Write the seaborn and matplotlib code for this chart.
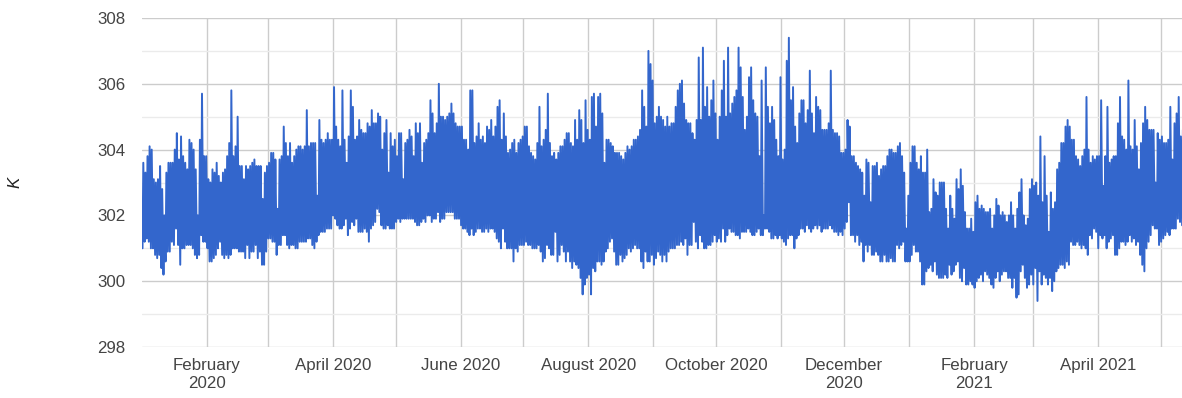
import matplotlib
matplotlib.use("Agg")
import matplotlib.pyplot as plt
import matplotlib.dates as mdates
from matplotlib.ticker import MultipleLocator
import numpy as np
import pandas as pd
import seaborn as sns

# Daily extremes of the hourly temperature record (kelvin), one list per month.
high_2020_01 = [303.6, 303.3, 303.8, 304.1, 304.0, 303.1, 303.0, 303.1, 303.5, 302.8, 302.0, 303.3, 303.6, 303.6, 303.6, 304.0,
                304.5, 303.7, 304.4, 303.8, 303.6, 303.4, 304.3, 304.2, 304.0, 303.4, 302.0, 304.3, 305.7, 303.8, 303.8]
low_2020_01 = [301.0, 301.2, 301.3, 301.2, 301.0, 301.0, 300.8, 300.7, 300.8, 300.4, 300.2, 300.6, 300.9, 300.9, 301.2, 301.1,
               301.6, 301.1, 300.5, 301.0, 301.0, 301.1, 301.1, 301.1, 301.0, 300.8, 300.7, 300.8, 301.4, 301.2, 301.2]

high_2020_02 = [303.1, 303.0, 303.4, 303.3, 303.6, 303.2, 303.0, 303.3, 303.4, 303.8, 304.2, 305.8, 303.8, 304.1, 305.0,
                303.5, 303.5, 303.1, 303.5, 303.4, 303.5, 303.6, 303.7, 303.5, 303.5, 303.5, 302.5, 303.3, 303.5]
low_2020_02 = [301.0, 300.6, 300.6, 300.7, 300.8, 301.0, 301.2, 300.8, 300.7, 300.8, 300.7, 300.8, 301.0, 301.0, 301.0,
               300.9, 300.9, 300.9, 300.7, 301.1, 300.7, 300.9, 300.9, 301.1, 300.7, 300.9, 300.5, 300.5, 300.9]

high_2020_03 = [303.6, 303.9, 303.9, 303.7, 302.2, 303.7, 303.8, 304.7, 304.2, 303.8, 304.2, 303.6, 303.8, 304.0, 304.1, 304.1,
                304.0, 304.1, 305.2, 304.1, 304.2, 304.2, 304.2, 302.6, 304.9, 304.3, 304.2, 304.3, 304.5, 304.3, 304.3]
low_2020_03 = [301.3, 301.3, 301.2, 301.2, 300.8, 301.1, 301.1, 301.4, 301.4, 301.1, 301.0, 301.1, 301.1, 301.0, 301.0, 301.2,
               301.2, 301.2, 301.2, 301.3, 301.3, 301.1, 301.0, 301.2, 301.4, 301.5, 301.5, 301.5, 301.6, 301.6, 301.6]

high_2020_04 = [305.9, 304.7, 304.3, 304.1, 305.8, 304.3, 303.6, 304.4, 305.8, 305.3, 304.3, 304.4, 304.9, 304.6, 304.5,
                304.5, 304.8, 304.7, 305.2, 304.8, 304.8, 305.1, 305.0, 304.0, 304.5, 304.9, 303.3, 304.5, 304.1, 304.3]
low_2020_04 = [302.0, 301.9, 301.7, 301.6, 301.6, 301.7, 301.9, 301.4, 301.6, 301.8, 301.7, 301.9, 301.5, 301.5, 301.5,
               301.6, 301.5, 301.2, 301.6, 301.7, 301.8, 302.2, 302.1, 301.7, 301.6, 301.6, 301.7, 301.6, 301.6, 301.6]

high_2020_05 = [303.8, 304.5, 304.5, 303.1, 304.2, 304.3, 304.6, 304.4, 303.8, 304.8, 304.5, 304.8, 303.6, 304.2, 304.3, 304.5,
                305.5, 305.1, 304.5, 304.8, 306.0, 305.0, 305.0, 304.9, 305.0, 305.1, 305.4, 305.1, 304.8, 304.7, 304.7]
low_2020_05 = [301.8, 301.9, 301.8, 301.9, 301.9, 301.9, 301.9, 301.9, 301.9, 301.8, 301.7, 301.7, 301.8, 301.9, 301.8, 302.0,
               302.0, 301.8, 301.9, 301.9, 302.1, 301.8, 301.9, 301.9, 302.1, 302.1, 302.1, 302.1, 301.9, 301.9, 301.9]

high_2020_06 = [304.7, 304.3, 304.3, 304.0, 305.8, 305.8, 304.2, 304.4, 304.8, 304.3, 304.4, 304.2, 304.7, 304.6, 304.9,
                304.4, 304.7, 305.3, 305.5, 304.3, 305.1, 304.4, 303.9, 304.0, 304.2, 304.3, 303.9, 304.2, 304.3, 304.4]
low_2020_06 = [301.7, 301.6, 301.6, 301.5, 301.4, 301.6, 301.4, 301.5, 301.6, 301.6, 301.5, 301.5, 301.6, 301.5, 301.6,
               301.6, 301.5, 301.3, 301.2, 301.0, 301.6, 301.2, 301.0, 301.0, 301.0, 300.6, 301.0, 300.9, 301.1, 301.1]

high_2020_07 = [304.7, 304.7, 304.1, 303.9, 303.8, 303.7, 304.2, 305.3, 304.1, 304.3, 304.6, 305.7, 304.2, 303.8, 303.9, 303.7,
                303.9, 304.1, 304.1, 304.3, 304.5, 304.5, 304.2, 304.1, 304.9, 304.3, 305.2, 304.9, 304.2, 305.5, 304.6]
low_2020_07 = [301.1, 301.2, 301.1, 301.1, 301.0, 301.0, 301.0, 301.1, 300.9, 300.6, 300.7, 301.1, 301.0, 300.8, 300.8, 301.5,
               300.6, 300.8, 301.1, 300.9, 300.6, 300.9, 300.6, 300.4, 300.6, 300.5, 300.4, 300.1, 299.6, 299.9, 300.1]

high_2020_08 = [304.3, 305.6, 305.7, 304.7, 305.6, 305.7, 305.1, 303.6, 304.3, 304.3, 304.2, 304.1, 303.9, 303.9, 303.9, 303.8,
                303.7, 303.9, 304.1, 304.0, 304.1, 304.3, 304.3, 304.4, 304.6, 305.8, 305.3, 304.7, 307.0, 306.6, 306.1]
low_2020_08 = [300.2, 299.6, 300.4, 300.3, 300.6, 300.6, 300.5, 300.6, 300.9, 301.0, 301.2, 301.3, 300.9, 300.5, 300.5, 300.8,
               300.6, 300.7, 300.8, 301.0, 300.9, 301.0, 301.1, 301.0, 301.0, 300.6, 300.4, 300.9, 300.6, 300.6, 300.8]

high_2020_09 = [304.8, 305.0, 305.3, 305.0, 304.9, 304.7, 305.0, 304.7, 304.8, 304.8, 305.3, 305.8, 306.0, 306.1, 305.4,
                304.9, 304.8, 304.8, 304.5, 304.3, 304.9, 306.8, 304.9, 307.1, 305.3, 305.9, 305.0, 305.5, 306.1, 305.1]
low_2020_09 = [300.5, 300.7, 300.9, 300.8, 300.6, 300.8, 300.6, 300.9, 301.0, 301.0, 301.0, 301.1, 301.1, 301.2, 301.1,
               301.3, 300.8, 301.1, 301.1, 301.8, 301.2, 301.0, 301.4, 301.2, 301.0, 301.0, 301.1, 301.1, 301.2, 301.4]

high_2020_10 = [304.3, 305.0, 305.8, 306.7, 305.0, 307.1, 305.1, 305.4, 305.6, 305.8, 307.1, 306.5, 305.6, 304.6, 305.0, 306.2,
                306.5, 305.5, 305.1, 305.0, 303.8, 306.1, 302.0, 306.5, 305.3, 304.8, 305.3, 304.9, 304.3, 303.8, 306.2]
low_2020_10 = [301.2, 301.3, 301.2, 301.6, 301.2, 301.4, 301.6, 301.5, 301.5, 301.4, 301.4, 301.3, 301.5, 301.5, 301.5, 301.6,
               301.5, 301.4, 301.4, 301.5, 301.6, 301.4, 301.4, 301.6, 301.6, 301.5, 301.3, 301.3, 301.4, 301.3, 301.4]

high_2020_11 = [303.7, 304.0, 306.7, 307.4, 305.5, 305.9, 304.7, 304.2, 305.1, 305.5, 305.5, 304.8, 305.2, 306.4, 305.1,
                304.5, 305.6, 305.3, 305.2, 304.6, 304.6, 304.6, 304.8, 306.4, 304.6, 304.5, 304.5, 304.4, 303.9, 303.9]
low_2020_11 = [301.3, 301.2, 301.1, 301.3, 301.4, 301.4, 301.0, 301.3, 301.4, 301.6, 301.6, 301.5, 301.7, 301.6, 301.5,
               301.6, 301.7, 301.6, 301.7, 301.5, 301.6, 301.6, 301.6, 301.7, 301.6, 301.5, 301.5, 301.4, 301.5, 301.4]

high_2020_12 = [304.0, 304.9, 304.7, 303.8, 303.8, 303.6, 303.5, 303.4, 303.3, 302.6, 303.7, 303.6, 302.4, 303.5, 303.5, 303.6,
                303.2, 303.4, 303.5, 303.5, 303.8, 304.0, 304.0, 303.9, 303.9, 304.1, 304.2, 303.8, 303.3, 301.6, 302.6]
low_2020_12 = [301.6, 301.8, 302.4, 301.4, 301.4, 301.2, 301.4, 301.1, 301.2, 300.6, 301.1, 300.9, 301.1, 300.8, 300.8, 300.9,
               300.8, 300.6, 300.6, 300.8, 300.6, 300.6, 300.7, 300.6, 300.6, 301.1, 301.0, 301.1, 301.2, 300.6, 300.6]

high_2021_01 = [303.6, 304.1, 304.1, 303.6, 303.4, 303.8, 303.3, 303.3, 304.0, 302.1, 302.2, 303.1, 302.7, 302.6, 303.0, 303.0,
                303.0, 302.2, 301.6, 302.6, 302.2, 301.9, 303.1, 302.8, 303.4, 302.9, 302.1, 301.6, 301.6, 301.9, 301.5]
low_2021_01 = [300.6, 300.8, 301.1, 300.9, 300.9, 300.6, 299.9, 299.9, 300.3, 300.4, 300.5, 300.3, 300.6, 300.2, 300.1, 300.1,
               300.1, 300.2, 300.1, 300.5, 300.2, 300.3, 300.5, 300.6, 300.1, 300.0, 300.4, 299.9, 299.9, 300.0, 299.9]

high_2021_02 = [302.4, 302.6, 302.2, 302.3, 302.2, 302.1, 302.1, 302.2, 301.6, 302.0, 302.5, 302.3, 302.0, 302.1,
                302.0, 301.8, 302.0, 302.4, 302.0, 301.6, 302.2, 302.7, 303.1, 302.0, 301.7, 301.9, 302.8, 303.1]
low_2021_02 = [299.8, 300.0, 300.1, 300.2, 300.0, 300.3, 300.2, 300.1, 299.9, 299.8, 300.1, 300.3, 300.0, 300.2,
               300.3, 300.3, 300.1, 300.1, 299.8, 300.1, 299.5, 299.6, 300.3, 300.5, 300.1, 299.8, 299.9, 300.2]

high_2021_03 = [302.9, 303.0, 302.6, 304.4, 302.4, 303.8, 302.6, 301.5, 302.7, 302.2, 302.4, 303.4, 303.6, 304.2, 304.2, 304.7,
                304.9, 304.7, 304.3, 304.3, 303.8, 303.7, 303.5, 303.8, 304.0, 305.6, 304.0, 303.6, 303.8, 303.7, 303.8]
low_2021_03 = [299.9, 300.4, 299.4, 300.3, 299.9, 300.2, 300.1, 299.9, 300.1, 299.7, 300.0, 300.3, 300.4, 300.5, 300.5, 300.4,
               300.6, 300.5, 301.2, 301.1, 301.1, 301.2, 301.1, 301.0, 301.1, 301.0, 300.8, 301.4, 301.3, 301.6, 301.5]

high_2021_04 = [303.8, 305.5, 302.9, 303.8, 305.3, 303.6, 303.7, 303.8, 303.8, 304.8, 305.6, 304.4, 304.3, 304.0, 306.1,
                304.1, 304.0, 304.9, 304.1, 303.4, 304.2, 304.8, 305.3, 304.9, 304.6, 304.6, 304.6, 303.0, 304.5, 304.3]
low_2021_04 = [301.0, 301.4, 301.3, 301.4, 301.0, 301.2, 301.3, 301.4, 300.8, 300.8, 301.0, 301.2, 301.2, 301.1, 301.2,
               301.4, 301.2, 301.3, 301.1, 301.2, 300.8, 300.5, 300.3, 301.0, 301.2, 301.4, 301.7, 301.6, 301.6, 301.1]

high_2021_05 = [304.4, 304.2, 304.2, 304.3, 305.3, 303.7, 304.8, 305.1, 305.6, 304.4, 304.6]
low_2021_05 = [301.2, 301.3, 301.4, 301.5, 301.4, 301.6, 301.6, 301.6, 301.9, 301.8, 301.7]

# Month gridlines and their labels (odd months carry a gridline only)
tick_months = ["2020-02", "2020-03", "2020-04", "2020-05", "2020-06", "2020-07", "2020-08", "2020-09",
               "2020-10", "2020-11", "2020-12", "2021-01", "2021-02", "2021-03", "2021-04", "2021-05"]
tick_labels = ["February\n2020", "", "April 2020", "", "June 2020", "", "August 2020", "",
               "October 2020", "", "December\n2020", "", "February\n2021", "", "April 2021", ""]
y_ticks = [298, 300, 302, 304, 306, 308]

daily_high = (high_2020_01 + high_2020_02 + high_2020_03 + high_2020_04 + high_2020_05 + high_2020_06
              + high_2020_07 + high_2020_08 + high_2020_09 + high_2020_10 + high_2020_11 + high_2020_12
              + high_2021_01 + high_2021_02 + high_2021_03 + high_2021_04 + high_2021_05)
daily_low = (low_2020_01 + low_2020_02 + low_2020_03 + low_2020_04 + low_2020_05 + low_2020_06
             + low_2020_07 + low_2020_08 + low_2020_09 + low_2020_10 + low_2020_11 + low_2020_12
             + low_2021_01 + low_2021_02 + low_2021_03 + low_2021_04 + low_2021_05)

start = pd.Timestamp("2020-01-01")
days = pd.date_range(start, periods=len(daily_high), freq="D")

# Each day: early-morning minimum, then mid-afternoon maximum
times = np.empty(2 * len(days), dtype="datetime64[ns]")
temps = np.empty(2 * len(days))
times[0::2] = (days + pd.Timedelta(hours=6)).values
times[1::2] = (days + pd.Timedelta(hours=15)).values
temps[0::2] = daily_low
temps[1::2] = daily_high
df = pd.DataFrame({"time": times, "K": temps})

sns.set_theme(style="white")
plt.rcParams["font.family"] = ["Liberation Sans", "DejaVu Sans"]

W, H = 1182, 398
fig = plt.figure(figsize=(W / 100, H / 100), dpi=100)
left, right, top, bottom = 142, 1182, 18, 347
ax = fig.add_axes([left / W, 1 - bottom / H, (right - left) / W, (bottom - top) / H])

sns.lineplot(data=df, x="time", y="K", ax=ax, color="#3366cc", linewidth=1.4,
             estimator=None, sort=False, zorder=3)

ax.set_xlim(start, start + pd.Timedelta(days=496.2))
ax.set_ylim(298, 308)

ax.set_xticks([pd.Timestamp(m + "-01") for m in tick_months])
ax.set_xticklabels(tick_labels)
ax.set_yticks(y_ticks)
ax.set_yticklabels([str(v) for v in y_ticks])
ax.yaxis.set_minor_locator(MultipleLocator(1))

ax.tick_params(axis="both", which="both", length=0, labelsize=12.2, colors="#444444")
ax.tick_params(axis="x", pad=8)
ax.tick_params(axis="y", pad=12)
for lbl in ax.get_xticklabels():
    lbl.set_multialignment("center")

ax.grid(True, axis="x", which="major", color="#cccccc", linewidth=1.0, zorder=0)
ax.grid(True, axis="y", which="major", color="#cccccc", linewidth=1.0, zorder=0)
ax.grid(True, axis="y", which="minor", color="#ebebeb", linewidth=1.0, zorder=0)
ax.set_axisbelow(True)

for side in ("top", "right", "left", "bottom"):
    ax.spines[side].set_visible(False)

ax.set_xlabel("")
ax.set_ylabel("K", fontsize=12.2, fontstyle="italic", color="#222222", rotation=90)
ax.yaxis.set_label_coords((22 - left) / (right - left), 0.5)

fig.savefig("out.png", dpi=100)
